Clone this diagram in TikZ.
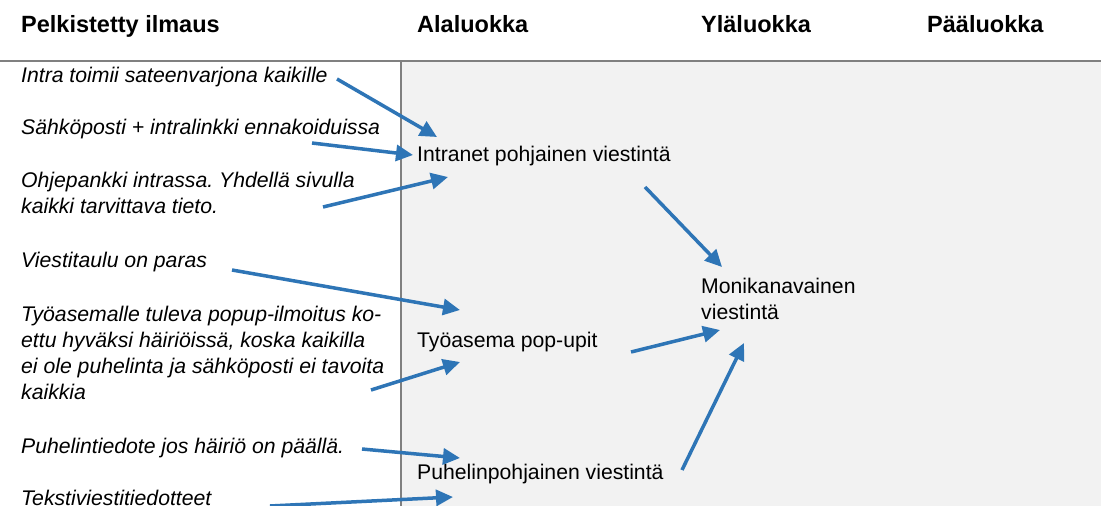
\documentclass[tikz,border=0pt]{standalone}
\usepackage{fontspec}
\setmainfont{Liberation Sans}
\usetikzlibrary{arrows.meta}
\frenchspacing
\definecolor{arrowblue}{RGB}{46,117,182}
\definecolor{panelgrey}{RGB}{242,242,242}
\definecolor{rulegrey}{RGB}{128,128,128}
\tikzset{
  hdr/.style={anchor=base west,inner sep=0pt,font=\fontsize{23.5}{28}\selectfont\bfseries},
  item/.style={anchor=base west,inner sep=0pt,font=\fontsize{21.2}{26.3}\selectfont\itshape},
  cat/.style={anchor=base west,inner sep=0pt,font=\fontsize{21.2}{26.5}\selectfont},
  arr/.style={draw=arrowblue,line width=3.5pt,-{Triangle[length=17pt,width=16pt]}}
}
\newcommand{\lines}[1]{\begin{tabular}[t]{@{}l@{}}#1\end{tabular}}
\begin{document}
\begin{tikzpicture}[x=1pt,y=-1pt]
\useasboundingbox (0,0) rectangle (1101,506);
\fill[white] (0,0) rectangle (1101,506);
\fill[panelgrey] (401,61) rectangle (1101,506);
\draw[rulegrey,line width=2pt] (0,61) -- (1101,61);
\draw[rulegrey,line width=2pt] (401,61) -- (401,506);

\node[hdr] (h1) at (21,32) {Pelkistetty ilmaus};
\node[hdr] (h2) at (417,32) {Alaluokka};
\node[hdr] (h3) at (701,32) {Yläluokka};
\node[hdr] (h4) at (927,32) {Pääluokka};

\node[item] (t1) at (21,82) {Intra toimii sateenvarjona kaikille};
\node[item] (t2) at (21,134) {Sähköposti + intralinkki ennakoiduissa};
\node[item] (t3) at (21,187) {\lines{Ohjepankki intrassa. Yhdellä sivulla\\kaikki tarvittava tieto.}};
\node[item] (t4) at (21,267) {Viestitaulu on paras};
\node[item] (t5) at (21,321) {\lines{Työasemalle tuleva popup-ilmoitus ko-\\ettu hyväksi häiriöissä, koska kaikilla\\ei ole puhelinta ja sähköposti ei tavoita\\kaikkia}};
\node[item] (t6) at (21,453) {Puhelintiedote jos häiriö on päällä.};
\node[item] (t7) at (21,505) {Tekstiviestitiedotteet};

\node[cat] (c1) at (417,161) {Intranet pohjainen viestintä};
\node[cat] (c2) at (417,347) {Työasema pop-upit};
\node[cat] (c3) at (417,479) {Puhelinpohjainen viestintä};
\node[cat] (m1) at (701,293) {\lines{Monikanavainen\\viestintä}};

\coordinate (s1) at (337,79);  \coordinate (e1) at (437,137);
\coordinate (s2) at (312,143); \coordinate (e2) at (413,155);
\coordinate (s3) at (323,207); \coordinate (e3) at (448,177);
\coordinate (s4) at (232,270); \coordinate (e4) at (460,310);
\coordinate (s5) at (371,390); \coordinate (e5) at (460,362);
\coordinate (s6) at (362,449); \coordinate (e6) at (460,458);
\coordinate (s7) at (270,506); \coordinate (e7) at (453,497);
\coordinate (s8) at (645,187); \coordinate (e8) at (722,267);
\coordinate (s9) at (631,352); \coordinate (e9) at (720,330);
\coordinate (s10) at (682,470); \coordinate (e10) at (744,343);

\draw[arr] (s1) -- (e1);
\draw[arr] (s2) -- (e2);
\draw[arr] (s3) -- (e3);
\draw[arr] (s4) -- (e4);
\draw[arr] (s5) -- (e5);
\draw[arr] (s6) -- (e6);
\draw[arr] (s7) -- (e7);
\draw[arr] (s8) -- (e8);
\draw[arr] (s9) -- (e9);
\draw[arr] (s10) -- (e10);
\end{tikzpicture}
\end{document}
